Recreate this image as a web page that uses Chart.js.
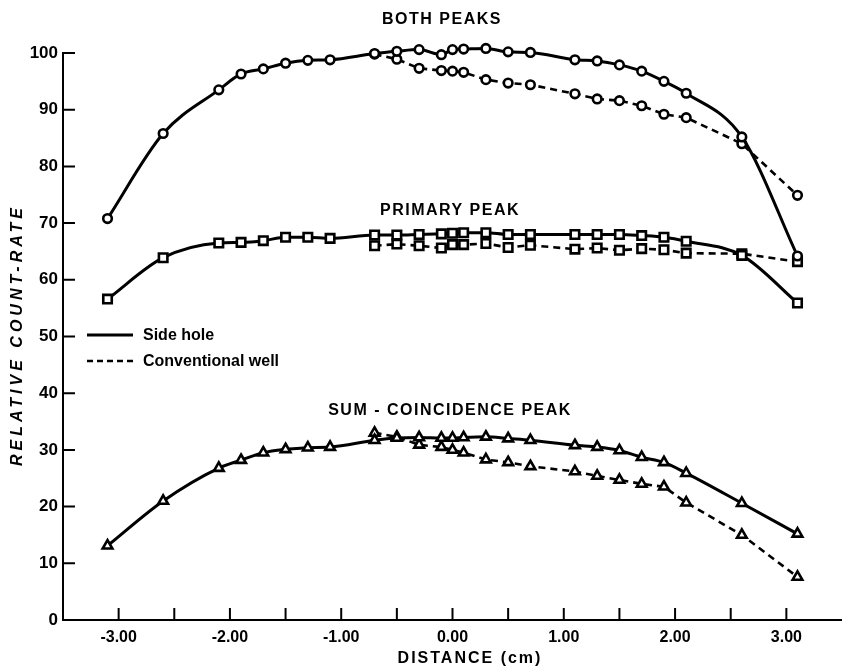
<!DOCTYPE html>
<html>
<head>
<meta charset="utf-8">
<script src="https://cdn.jsdelivr.net/npm/chart.js@4"></script>
<style>
  body { margin: 0; background: #fff; }
  canvas { display: block; }
</style>
</head>
<body>
<canvas id="chart" width="842" height="672"></canvas>
<script>
// distances (cm)
const sideDist = [-3.1, -2.6, -2.1, -1.9, -1.7, -1.5, -1.3, -1.1, -0.7, -0.5, -0.3, -0.1, 0, 0.1, 0.3, 0.5, 0.7, 1.1, 1.3, 1.5, 1.7, 1.9, 2.1, 2.6, 3.1];
const convDist = [-0.7, -0.5, -0.3, -0.1, 0, 0.1, 0.3, 0.5, 0.7, 1.1, 1.3, 1.5, 1.7, 1.9, 2.1, 2.6, 3.1];

// relative count-rate
const bothSide = [70.8, 85.8, 93.5, 96.3, 97.2, 98.2, 98.7, 98.8, 99.9, 100.3, 100.6, 99.7, 100.6, 100.7, 100.8, 100.2, 100.1, 98.8, 98.6, 97.9, 96.8, 95.0, 92.9, 85.2, 64.2];
const bothConv = [99.8, 98.9, 97.3, 96.9, 96.8, 96.6, 95.3, 94.7, 94.4, 92.8, 91.9, 91.6, 90.7, 89.2, 88.6, 84.0, 74.9];
const primSide = [56.6, 63.9, 66.5, 66.6, 66.9, 67.5, 67.5, 67.3, 67.9, 67.9, 68.0, 68.1, 68.2, 68.3, 68.3, 68.0, 68.0, 68.0, 68.0, 68.0, 67.8, 67.5, 66.8, 64.3, 55.9];
const primConv = [66.0, 66.3, 66.0, 65.6, 66.2, 66.2, 66.4, 65.7, 66.1, 65.4, 65.6, 65.2, 65.5, 65.3, 64.7, 64.6, 63.2];
const sumSide = [13.1, 21.0, 26.8, 28.2, 29.5, 30.1, 30.4, 30.5, 31.7, 32.1, 32.2, 32.1, 32.1, 32.2, 32.3, 32.0, 31.7, 30.8, 30.5, 29.9, 28.7, 27.8, 25.9, 20.6, 15.2];
const sumConv = [33.0, 32.3, 30.9, 30.5, 30.0, 29.5, 28.3, 27.8, 27.1, 26.2, 25.4, 24.7, 24.0, 23.5, 20.7, 15.0, 7.6];

const xTickValues = [-3, -2, -1, 0, 1, 2, 3];
const xTickLabels = ['-3.00', '-2.00', '-1.00', '0.00', '1.00', '2.00', '3.00'];
const xMinorTicks = [-3, -2.5, -2, -1.5, -1, -0.5, 0, 0.5, 1, 1.5, 2, 2.5, 3];
const yTickValues = [0, 10, 20, 30, 40, 50, 60, 70, 80, 90, 100];

const FONT = "'Liberation Sans', Arial, sans-serif";

function pts(xs, ys) {
  return xs.map((x, i) => ({ x: x, y: ys[i] }));
}

function solid(data, shape, r) {
  return {
    data: data,
    borderColor: '#000',
    borderWidth: 3,
    cubicInterpolationMode: 'monotone',
    pointStyle: shape,
    pointRadius: r,
    pointBorderWidth: 2.6,
    pointBackgroundColor: '#fff',
    pointBorderColor: '#000',
    clip: false
  };
}

function dashed(data, shape, r) {
  return {
    data: data,
    borderColor: '#000',
    borderWidth: 2.6,
    borderDash: [7, 5],
    tension: 0,
    pointStyle: shape,
    pointRadius: r,
    pointBorderWidth: 2.6,
    pointBackgroundColor: '#fff',
    pointBorderColor: '#000',
    clip: false
  };
}

function spaced(ctx, text, x, y, spacing) {
  ctx.letterSpacing = spacing + 'px';
  ctx.fillText(text, x, y);
  ctx.letterSpacing = '0px';
}

const decor = {
  id: 'decor',
  afterDraw(chart) {
    const ctx = chart.ctx;
    const xs = chart.scales.x, ys = chart.scales.y;
    const area = chart.chartArea;
    ctx.save();
    ctx.strokeStyle = '#000';
    ctx.lineWidth = 2;
    // inward tick marks
    ctx.beginPath();
    xMinorTicks.forEach(v => {
      const px = xs.getPixelForValue(v);
      ctx.moveTo(px, area.bottom);
      ctx.lineTo(px, area.bottom - 12);
    });
    yTickValues.forEach(v => {
      if (v === 0) return;
      const py = ys.getPixelForValue(v);
      ctx.moveTo(area.left, py);
      ctx.lineTo(area.left + 12, py);
    });
    ctx.stroke();

    // curve titles
    ctx.fillStyle = '#000';
    ctx.textAlign = 'center';
    ctx.textBaseline = 'middle';
    ctx.font = 'bold 16px ' + FONT;
    spaced(ctx, 'BOTH PEAKS', 442, 20, 1.5);
    spaced(ctx, 'PRIMARY PEAK', 450, 211, 1.5);
    spaced(ctx, 'SUM - COINCIDENCE PEAK', 450, 411, 1.5);

    // axis titles
    spaced(ctx, 'DISTANCE (cm)', 470, 659, 2);
    ctx.save();
    ctx.translate(18, 335);
    ctx.rotate(-Math.PI / 2);
    ctx.font = 'italic bold 16px ' + FONT;
    spaced(ctx, 'RELATIVE COUNT-RATE', 0, 0, 4);
    ctx.restore();

    // legend
    ctx.lineWidth = 2.8;
    ctx.beginPath();
    ctx.moveTo(87, 335);
    ctx.lineTo(133, 335);
    ctx.stroke();
    ctx.lineWidth = 2.4;
    ctx.setLineDash([6, 4]);
    ctx.beginPath();
    ctx.moveTo(87, 361);
    ctx.lineTo(133, 361);
    ctx.stroke();
    ctx.setLineDash([]);
    ctx.textAlign = 'left';
    ctx.font = 'bold 16px ' + FONT;
    ctx.fillText('Side hole', 143, 336);
    ctx.fillText('Conventional well', 143, 362);
    ctx.restore();
  }
};

new Chart(document.getElementById('chart'), {
  type: 'line',
  data: {
    datasets: [
      solid(pts(sideDist, bothSide), 'circle', 4.3),
      dashed(pts(convDist, bothConv), 'circle', 4.3),
      solid(pts(sideDist, primSide), 'rect', 6),
      dashed(pts(convDist, primConv), 'rect', 6),
      solid(pts(sideDist, sumSide), 'triangle', 5.6),
      dashed(pts(convDist, sumConv), 'triangle', 5.6)
    ]
  },
  options: {
    responsive: false,
    animation: false,
    layout: { autoPadding: false, padding: { top: 53, right: 0, left: 0, bottom: 0 } },
    plugins: { legend: { display: false }, tooltip: { enabled: false } },
    scales: {
      x: {
        type: 'linear',
        min: -3.5,
        max: 3.5,
        afterBuildTicks: s => { s.ticks = xTickValues.map(v => ({ value: v })); },
        afterFit: s => { s.height = 52; },
        ticks: {
          autoSkip: false,
          maxRotation: 0,
          padding: 8,
          color: '#000',
          font: { family: FONT, size: 16, weight: 'bold' },
          callback: v => xTickLabels[xTickValues.indexOf(v)]
        },
        grid: { display: false, drawTicks: false },
        border: { color: '#000', width: 2 }
      },
      y: {
        min: 0,
        max: 100,
        afterBuildTicks: s => { s.ticks = yTickValues.map(v => ({ value: v })); },
        afterFit: s => { s.width = 63; },
        ticks: {
          padding: 5,
          color: '#000',
          font: { family: FONT, size: 17, weight: 'bold' }
        },
        grid: { display: false, drawTicks: false },
        border: { color: '#000', width: 2 }
      }
    }
  },
  plugins: [decor]
});
</script>
</body>
</html>
